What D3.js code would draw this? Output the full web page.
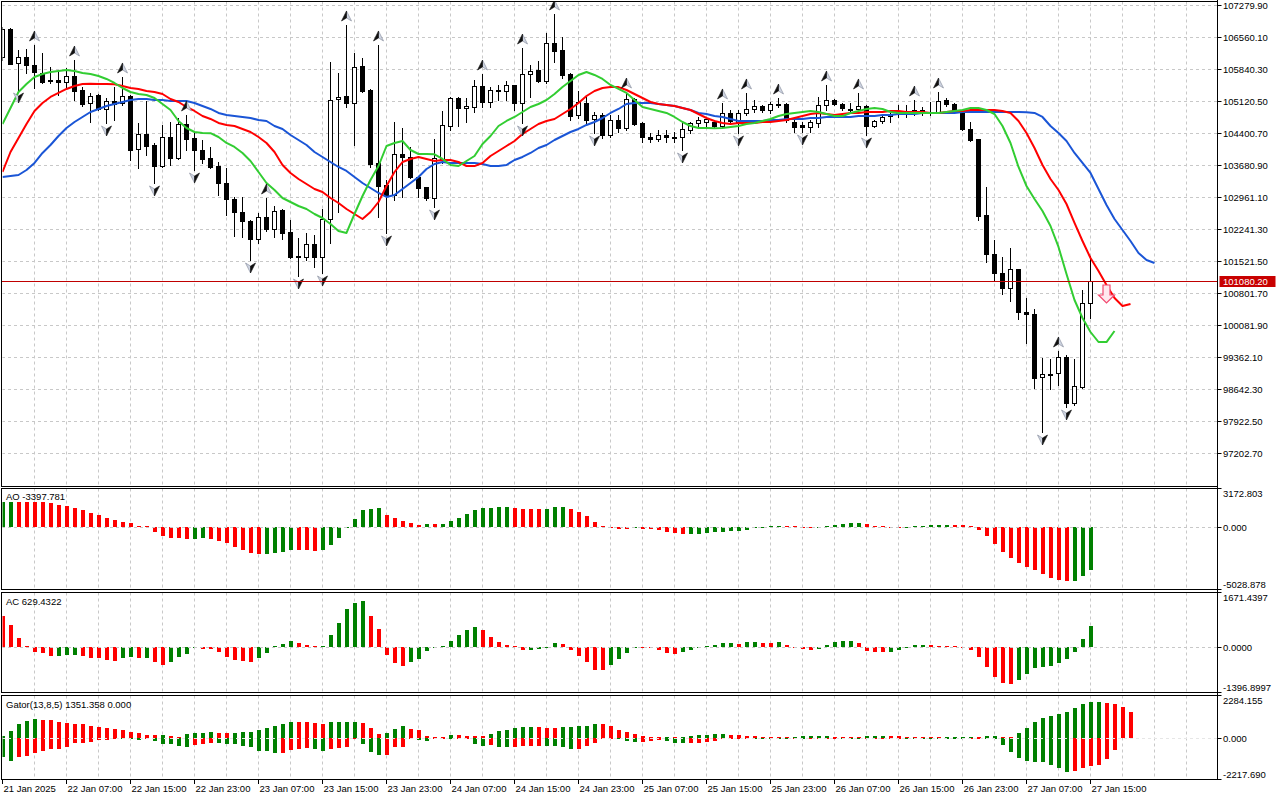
<!DOCTYPE html>
<html>
<head>
<meta charset="utf-8">
<script src="https://cdnjs.cloudflare.com/ajax/libs/d3/7.8.5/d3.min.js"></script>
<style>
body { margin: 0; background: #ffffff; }
svg { display: block; background: #ffffff; }
text { font-family: "Liberation Sans", Arial, sans-serif; font-size: 9.5px; fill: #000; }
</style>
</head>
<body>
<svg width="1280" height="800"></svg>
<script>
// ---- H1 candles, 21 Jan 23:00 .. 27 Jan 15:00 ----
var opens = [
106110,106740,105975,106110,105930,105750,105592,105592,105547,105682,
105367,105075,105255,104940,105120,105075,105232,104040,104377,104130,
103657,104310,103837,104602,104287,104017,103837,103657,103275,102915,
102622,102420,102015,102510,102240,102667,102172,101632,101610,101902,
101610,102465,105165,105232,105075,105907,105367,103725,103230,103005,
103927,103860,103410,103185,102937,103815,104557,105187,104962,104985,
105457,105097,105367,105345,105480,105075,105727,105817,105570,106425,
106267,105727,104805,105075,104715,104805,104355,104692,104512,105165,
104625,104310,104265,104355,104310,104310,104467,104625,104647,104647,
104557,104850,104647,104850,104940,105007,104917,105052,105052,104647,
104580,104535,104625,105030,105142,105052,104940,104940,105007,104557,
104670,104782,104872,104850,104917,104917,104872,104872,105142,105052,
104895,104490,104265,102555,101677,101250,100912,101340,100372,100327,
98910,98977,99000,99360,98325,98685,100575];
var highs = [
106785,106760,106267,106290,106380,106200,105885,105817,105862,106042,
105435,105300,105270,105187,105435,105660,105255,104625,105120,104175,
104580,104647,104737,104805,104422,104242,104085,103747,103612,102960,
102960,102442,102600,102937,102757,102680,102442,102037,102150,102105,
102690,105997,105750,106830,106200,106087,105390,106380,103342,104647,
104512,104085,103420,103195,104265,104895,105210,105210,105187,105592,
105727,105435,105480,105570,105490,106312,105930,106020,106650,107077,
106560,105740,105345,105210,104872,104850,104805,104805,105322,105187,
104647,104400,104467,104467,104422,104625,104647,104760,104760,104692,
105075,104917,104917,105300,105142,105030,105097,105187,105075,104692,
104647,104692,105210,105480,105165,105075,105075,105300,105030,104692,
104805,104917,105030,105030,105142,104985,105097,105322,105187,105075,
104917,104647,104275,103185,101992,101610,101812,101350,100687,100440,
99337,99315,99495,99405,99315,100867,101632];
var lows = [
106042,105952,105367,105750,105412,105525,105525,105255,105435,105142,
105007,104647,104917,104625,104692,105030,103792,103612,103905,103275,
103635,103680,103815,104017,103567,103725,103612,103005,102555,102082,
102060,101542,101925,102195,102060,102015,101590,101182,101542,101384,
101250,101925,102622,104985,104130,105320,103635,102510,102150,102892,
102960,103387,102960,102892,102735,103725,104467,104557,104647,104872,
104985,104985,105142,105142,104917,104625,105210,105547,105525,105997,
105637,104692,104737,104580,104400,104287,104310,104422,104467,104580,
104197,104197,104220,104197,104197,104017,104400,104535,104535,104512,
104535,104625,104400,104805,104872,104872,104850,104985,104647,104422,
104422,104422,104535,104917,105030,104917,104872,104917,104355,104535,
104625,104647,104760,104760,104805,104805,104805,104850,105007,104872,
104467,104220,102442,101497,101070,100777,100620,100215,99675,98662,
97672,98640,98730,98235,98280,98662,100237];
var closes = [
106740,105952,106110,105930,105772,105547,105570,105547,105682,105345,
105052,105232,104940,105120,105052,105232,104017,104377,104107,103657,
104310,103837,104602,104265,104017,103815,103635,103275,102915,102622,
102420,102015,102510,102240,102645,102150,101610,101620,101902,101610,
102465,105142,105210,105075,105885,105345,103702,103207,103005,103927,
103860,103410,103162,102937,103837,104580,105187,104962,105007,105457,
105097,105367,105360,105480,105075,105727,105795,105570,106425,106245,
105705,104782,105097,104692,104805,104355,104692,104512,105165,104602,
104310,104265,104355,104310,104300,104490,104625,104692,104715,104557,
104850,104670,104850,104940,105007,104917,105052,105030,104692,104535,
104535,104647,105030,105142,105052,104962,104930,105007,104557,104670,
104760,104827,104850,104895,104850,104872,104862,105120,105052,104895,
104490,104242,102532,101677,101250,100912,101340,100372,100327,98887,
98977,98970,99360,98325,98707,100575,101080.20];

// ---- Alligator (13/8, 8/5, 5/3), drawn with its forward shift ----
var jaw = [
103410,103432,103455,103567,103725,103950,104130,104332,104512,104647,
104760,104872,104940,105007,105052,105097,105142,105165,105167,105142,
105140,105120,105118,105120,105075,105007,104940,104850,104805,104782,
104760,104737,104692,104670,104557,104490,104355,104242,104130,103972,
103860,103747,103635,103545,103410,103275,103162,103050,102960,103005,
103140,103275,103410,103590,103702,103747,103725,103723,103725,103727,
103702,103657,103655,103680,103792,103860,103950,104062,104130,104242,
104332,104422,104490,104580,104647,104737,104850,104940,105052,105075,
105073,105075,105052,105030,105007,104962,104917,104850,104827,104782,
104760,104715,104670,104668,104670,104672,104692,104690,104715,104713,
104715,104737,104735,104760,104758,104760,104762,104782,104780,104782,
104805,104803,104827,104825,104827,104850,104848,104850,104852,104850,
104872,104870,104872,104870,104872,104870,104872,104870,104868,104850,
104760,104557,104400,104220,103950,103725,103500,103140,102780,102465,
102217,101970,101700,101542,101475];
var teeth = [
103522,103972,104287,104602,104895,105075,105210,105300,105390,105457,
105502,105505,105503,105500,105498,105457,105412,105390,105345,105322,
105277,105165,105097,104985,104895,104782,104715,104625,104580,104557,
104490,104422,104310,104175,103972,103680,103500,103365,103252,103140,
103072,102937,102825,102690,102577,102465,102622,102847,103207,103522,
103747,103815,103860,103815,103770,103792,103790,103747,103657,103655,
103725,103882,103995,104107,104220,104377,104490,104602,104670,104715,
104827,104940,105075,105232,105345,105412,105435,105433,105367,105277,
105187,105097,105052,105030,105007,104962,104917,104827,104737,104670,
104625,104602,104625,104623,104625,104647,104645,104670,104692,104737,
104782,104827,104850,104827,104805,104827,104850,104848,104872,104870,
104872,104895,104893,104872,104870,104872,104850,104848,104872,104895,
104893,104917,104915,104917,104915,104895,104850,104670,104400,104062,
103680,103365,103117,102802,102375,101970,101587,101295,100980,100687,
100507,100552];
var lips = [
104602,104962,105322,105502,105660,105727,105772,105795,105817,105795,
105750,105727,105682,105615,105525,105412,105322,105277,105255,105187,
105052,104917,104670,104512,104422,104400,104395,104310,104175,104085,
103950,103770,103522,103275,103117,102937,102847,102757,102690,102577,
102487,102352,102195,102150,102577,102982,103342,103657,104107,104175,
104220,104017,103927,103925,103920,103815,103680,103657,103770,103882,
104152,104332,104557,104670,104760,104872,104985,105052,105142,105277,
105435,105570,105705,105772,105705,105615,105480,105390,105300,105142,
104985,104940,104895,104850,104760,104647,104557,104512,104510,104508,
104510,104535,104557,104602,104625,104670,104715,104782,104827,104850,
104872,104895,104872,104827,104782,104780,104850,104895,104940,104962,
104940,104872,104850,104848,104850,104852,104850,104848,104872,104895,
104917,104962,104960,104917,104827,104557,104175,103635,103207,102915,
102645,102307,101835,101227,100642,100237,99922,99697,99695,99945];

// ---- oscillators ----
var ao = [
1990,1999,1972,1965,1958,1950,1894,1736,1631,1473,
1341,1131,947,710,552,395,316,79,13,-368,
-684,-868,-876,-920,-915,-907,-928,-1078,-1289,-1578,
-1815,-2025,-2104,-2096,-2025,-1946,-1788,-1794,-1802,-1867,
-1788,-1394,-868,-53,631,1341,1420,1499,947,710,
473,316,158,237,224,237,473,710,1026,1341,
1499,1507,1578,1583,1499,1420,1415,1410,1420,1578,
1583,1420,1184,868,420,79,-26,-131,-137,-53,
-131,-139,-210,-368,-447,-526,-521,-515,-447,-421,
-368,-289,-284,-210,-53,-26,13,79,66,13,
-26,-34,-21,53,158,237,316,321,237,79,
53,-26,-34,-26,26,53,132,134,158,132,
124,26,-210,-710,-1315,-1946,-2420,-2840,-3156,-3393,
-3708,-4024,-4182,-4261,-4255,-3866,-3397.781];
var ac = [
930,660,270,5,-140,-170,-260,-255,-250,-245,
-260,-320,-325,-390,-410,-320,-290,-320,-315,-440,
-530,-440,-290,-200,-40,-45,-50,-140,-290,-380,
-410,-440,-320,-170,5,90,180,120,60,10,
30,360,730,1130,1320,1380,930,540,-240,-470,
-570,-440,-360,-120,-40,20,180,360,510,600,
510,300,150,60,5,-90,-85,-60,-20,120,
90,-90,-270,-450,-690,-695,-540,-360,-180,-15,
-20,-25,-90,-180,-210,-150,-90,-30,20,60,
120,125,90,150,155,120,115,150,60,-20,
-60,-90,-50,60,150,180,185,120,-120,-150,
-155,-150,-80,-10,50,60,55,20,15,10,
-5,-80,-290,-600,-900,-1080,-1110,-990,-810,-630,
-600,-570,-480,-360,-150,240,629.4322];
var gatorUpper = [
120,385,735,910,1000,945,940,858,788,735,
730,630,560,508,473,420,333,245,175,158,
165,88,60,200,263,270,333,263,258,280,
300,333,438,508,630,735,823,820,818,770,
735,823,840,843,846,800,530,230,280,480,
640,480,430,123,40,35,158,140,120,100,
88,230,385,438,508,560,565,555,525,520,
560,578,613,630,735,730,630,420,315,210,
88,35,20,35,20,25,88,140,158,210,
215,158,155,105,100,52,35,20,15,30,
88,105,110,115,60,55,20,15,105,108,
110,105,90,55,52,35,30,10,15,20,
25,50,35,105,110,55,50,263,525,840,
1050,1155,1260,1365,1575,1785,1890,1895,1838,1785,
1628,1351.358];
var gatorLower = [
-1015,-1190,-980,-928,-805,-665,-578,-570,-455,-280,
-275,-193,-105,-88,-35,-52,-70,-88,-35,-140,
-315,-330,-438,-490,-350,-315,-263,-280,-315,-320,
-403,-490,-665,-700,-788,-785,-613,-578,-543,-580,
-665,-578,-543,-490,-52,-315,-718,-893,-890,-455,
-450,-50,-100,-140,-20,-15,-20,-15,-10,-315,
-438,-390,-490,-495,-455,-438,-403,-400,-405,-438,
-490,-578,-575,-438,-263,-20,-10,-52,-140,-193,
-190,-140,-88,-140,-245,-250,-245,-240,-193,-140,
-52,-20,-15,-10,-15,-30,-52,-70,-72,-52,
-70,-60,-50,-40,-20,-30,-52,-70,-40,-30,
-20,-15,-10,-15,-20,-25,-30,-35,-37,-40,
-45,-30,-20,-25,-40,-350,-718,-1033,-1190,-1243,
-1245,-1400,-1558,-1768,-1715,-1558,-1453,-1400,-1085,-613];

// fractal bars and the sell arrow
var fractalUp = [4,9,15,23,33,43,47,60,65,69,78,90,93,97,103,107,114,117,132];
var fractalDown = [2,13,19,24,31,37,40,48,54,65,74,85,92,100,108,130,133];
var sellSignals = [{bar: 138, price: 100980}];

// axes
var priceTicks = [97202.70,97922.50,98642.30,99362.10,100081.90,100801.70,101521.50,
  102241.30,102961.10,103680.90,104400.70,105120.50,105840.30,106560.10,107279.90];
var timeBars = [0,8,16,24,32,40,48,56,64,72,80,88,96,104,112,120,128,136];
var timeLabels = ["21 Jan 2025","22 Jan 07:00","22 Jan 15:00","22 Jan 23:00","23 Jan 07:00",
  "23 Jan 15:00","23 Jan 23:00","24 Jan 07:00","24 Jan 15:00","24 Jan 23:00","25 Jan 07:00",
  "25 Jan 15:00","25 Jan 23:00","26 Jan 07:00","26 Jan 15:00","26 Jan 23:00","27 Jan 07:00","27 Jan 15:00"];
var aoRange = [-5028.878, 3172.803];
var acRange = [-1396.8997, 1671.4397];
var gatorRange = [-2217.690, 2284.155];

var svg = d3.select("svg");
var UP = "#008000", DOWN = "#ff0000", GRID = "#c8c8c8";
var axisX = 1217.5;

var x = d3.scaleLinear().domain([0, 151.9375]).range([2, axisX]);

var panels = {
  main:  {top: 1.5,   bottom: 486.5, y: d3.scaleLinear().domain([96457, 107369.5]).range([486, 1])},
  ao:    {top: 488.5, bottom: 589.5, y: d3.scaleLinear().domain(aoRange).range([590.7, 486.8])},
  ac:    {top: 592.5, bottom: 692.5, y: d3.scaleLinear().domain(acRange).range([693.6, 591.3])},
  gator: {top: 695.5, bottom: 779.5, y: d3.scaleLinear().domain(gatorRange).range([780.2, 694.6])}
};

var defs = svg.append("defs");
Object.keys(panels).forEach(function(k) {
  var p = panels[k];
  defs.append("clipPath").attr("id", "clip-" + k)
    .append("rect").attr("x", 2.5).attr("y", p.top + 0.5)
    .attr("width", axisX - 3).attr("height", p.bottom - p.top - 1);
  p.g = svg.append("g").attr("clip-path", "url(#clip-" + k + ")");
  // vertical grid every 4 bars
  p.g.selectAll(null).data(d3.range(4, 152, 4)).join("line")
    .attr("x1", function(d) { return x(d) + 0.5; }).attr("x2", function(d) { return x(d) + 0.5; })
    .attr("y1", p.top).attr("y2", p.bottom)
    .attr("stroke", GRID).attr("stroke-dasharray", "3,3");
});

// ---- main panel ----
var pm = panels.main, ym = pm.y;
pm.g.selectAll(null).data(priceTicks).join("line")
  .attr("x1", 2).attr("x2", axisX)
  .attr("y1", function(d) { return Math.round(ym(d)) + 0.5; })
  .attr("y2", function(d) { return Math.round(ym(d)) + 0.5; })
  .attr("stroke", GRID).attr("stroke-dasharray", "3,3");

var candles = pm.g.append("g").attr("shape-rendering", "crispEdges");
candles.selectAll("line").data(closes).join("line")
  .attr("x1", function(d, i) { return x(i) + 0.5; })
  .attr("x2", function(d, i) { return x(i) + 0.5; })
  .attr("y1", function(d, i) { return Math.round(ym(highs[i])); })
  .attr("y2", function(d, i) { return Math.round(ym(lows[i])) + 1; })
  .attr("stroke", "#000");
candles.selectAll("rect").data(closes).join("rect")
  .attr("x", function(d, i) { return x(i) - 1.5; })
  .attr("width", 4)
  .attr("y", function(d, i) { return Math.round(ym(Math.max(opens[i], d))) + 0.5; })
  .attr("height", function(d, i) {
    return Math.max(1, Math.round(ym(Math.min(opens[i], d))) - Math.round(ym(Math.max(opens[i], d))));
  })
  .attr("fill", function(d, i) { return d >= opens[i] ? "#fff" : "#000"; })
  .attr("stroke", "#000");

var line = d3.line().x(function(d, i) { return x(i) + 0.5; }).y(function(d) { return ym(d); });
[[jaw, "#1a55d6"], [teeth, "#ff0000"], [lips, "#32cd32"]].forEach(function(s) {
  pm.g.append("path").datum(s[0]).attr("d", line)
    .attr("fill", "none").attr("stroke", s[1]).attr("stroke-width", 2).attr("stroke-linejoin", "round");
});

// fractal arrows
function fractal(cx, cy, up) {
  var s = up ? 1 : -1, g = pm.g.append("g").attr("transform", "translate(" + cx + "," + cy + ") scale(" + s + ")");
  g.append("path").attr("d", "M0,-5L5,5L0,2Z").attr("fill", "#cfd5e2").attr("stroke", "#7d8596").attr("stroke-width", 0.6);
  g.append("path").attr("d", "M0,-5L0,2L-5,5Z").attr("fill", "#111").attr("stroke", "#111").attr("stroke-width", 0.6);
}
fractalUp.forEach(function(i) { fractal(x(i) + 0.5, ym(highs[i]) - 9, true); });
fractalDown.forEach(function(i) { fractal(x(i) + 0.5, ym(lows[i]) + 8, false); });

sellSignals.forEach(function(s) {
  pm.g.append("path")
    .attr("transform", "translate(" + (x(s.bar) + 0.5) + "," + ym(s.price) + ")")
    .attr("d", "M-3.5,0H3.5V10H8L0,18L-8,10H-3.5Z")
    .attr("fill", "#ffe9ef").attr("stroke", "#f2486f").attr("stroke-width", 1.2);
});

// current price line
var lastClose = closes[closes.length - 1];
var yLast = Math.round(ym(lastClose)) + 0.5;
svg.append("line").attr("x1", 2).attr("x2", axisX).attr("y1", yLast).attr("y2", yLast)
  .attr("stroke", "#c00000").attr("stroke-width", 1);

// ---- oscillator panels ----
function histogram(p, values, firstUp, magnitude) {
  var y = p.y, y0 = Math.round(y(0));
  p.g.append("g").attr("shape-rendering", "crispEdges")
    .selectAll("rect").data(values).join("rect")
    .attr("x", function(d, i) { return x(i) - 1; })
    .attr("width", 4)
    .attr("y", function(d) { return d >= 0 ? Math.min(Math.round(y(d)), y0 - 1) : y0; })
    .attr("height", function(d) { return Math.max(1, Math.abs(Math.round(y(d)) - y0)); })
    .attr("fill", function(d, i) {
      if (i === 0) return firstUp ? UP : DOWN;
      var a = magnitude ? Math.abs(d) : d, b = magnitude ? Math.abs(values[i - 1]) : values[i - 1];
      return a > b ? UP : DOWN;
    });
}
histogram(panels.ao, ao, true, false);
histogram(panels.ac, ac, false, false);
histogram(panels.gator, gatorUpper, true, true);
histogram(panels.gator, gatorLower, true, true);

["ao", "ac", "gator"].forEach(function(k) {
  var p = panels[k], yz = Math.round(p.y(0)) + 0.5;
  p.g.append("line").attr("x1", 2).attr("x2", axisX).attr("y1", yz).attr("y2", yz)
    .attr("stroke", k === "gator" ? "#e6e6e6" : GRID).attr("stroke-dasharray", "3,3");
});

// panel borders
Object.keys(panels).forEach(function(k) {
  var p = panels[k];
  svg.append("rect").attr("x", 1.5).attr("y", p.top).attr("width", axisX - 1.5).attr("height", p.bottom - p.top)
    .attr("fill", "none").attr("stroke", "#000").attr("shape-rendering", "crispEdges");
});
svg.append("line").attr("x1", axisX).attr("x2", axisX).attr("y1", 0).attr("y2", 780)
  .attr("stroke", "#000").attr("shape-rendering", "crispEdges");

// panel titles
svg.append("text").attr("x", 6).attr("y", 500).text("AO " + ao[ao.length - 1].toFixed(3));
svg.append("text").attr("x", 6).attr("y", 605).text("AC " + ac[ac.length - 1].toFixed(4));
var gLow = gatorLower[gatorUpper.length - 1] || 0;
svg.append("text").attr("x", 6).attr("y", 708)
  .text("Gator(13,8,5) " + gatorUpper[gatorUpper.length - 1].toFixed(3) + " " + Math.abs(gLow).toFixed(3));

// ---- right price axis ----
var axisG = svg.append("g");
priceTicks.forEach(function(v) {
  var yy = Math.round(ym(v)) + 0.5;
  axisG.append("line").attr("x1", axisX).attr("x2", axisX + 4).attr("y1", yy).attr("y2", yy).attr("stroke", "#000");
  axisG.append("text").attr("x", axisX + 5.5).attr("y", yy).attr("dy", "0.35em").text(v.toFixed(2));
});
axisG.append("rect").attr("x", axisX + 2).attr("y", yLast - 5.5).attr("width", 56).attr("height", 11).attr("fill", "#c80000");
axisG.append("text").attr("x", axisX + 5.5).attr("y", yLast).attr("dy", "0.35em").style("fill", "#fff").text(lastClose.toFixed(2));

function sideLabels(p, values, digits) {
  values.forEach(function(v) {
    var yy = Math.max(p.top, Math.min(p.bottom, Math.round(p.y(v)) + 0.5));
    var ty = Math.max(p.top + 5, Math.min(p.bottom - 5, yy));
    axisG.append("line").attr("x1", axisX).attr("x2", axisX + 4).attr("y1", yy).attr("y2", yy).attr("stroke", "#000");
    axisG.append("text").attr("x", axisX + 5.5).attr("y", ty).attr("dy", "0.35em").text(v.toFixed(digits));
  });
}
sideLabels(panels.ao, [aoRange[1], 0, aoRange[0]], 3);
sideLabels(panels.ac, [acRange[1], 0, acRange[0]], 4);
sideLabels(panels.gator, [gatorRange[1], 0, gatorRange[0]], 3);

// ---- time axis ----
timeBars.forEach(function(b, k) {
  var xx = x(b) + 0.5;
  axisG.append("line").attr("x1", xx).attr("x2", xx).attr("y1", 779.5).attr("y2", 784).attr("stroke", "#000");
  axisG.append("text").attr("x", xx + 1).attr("y", 792).text(timeLabels[k]);
});
</script>
</body>
</html>
